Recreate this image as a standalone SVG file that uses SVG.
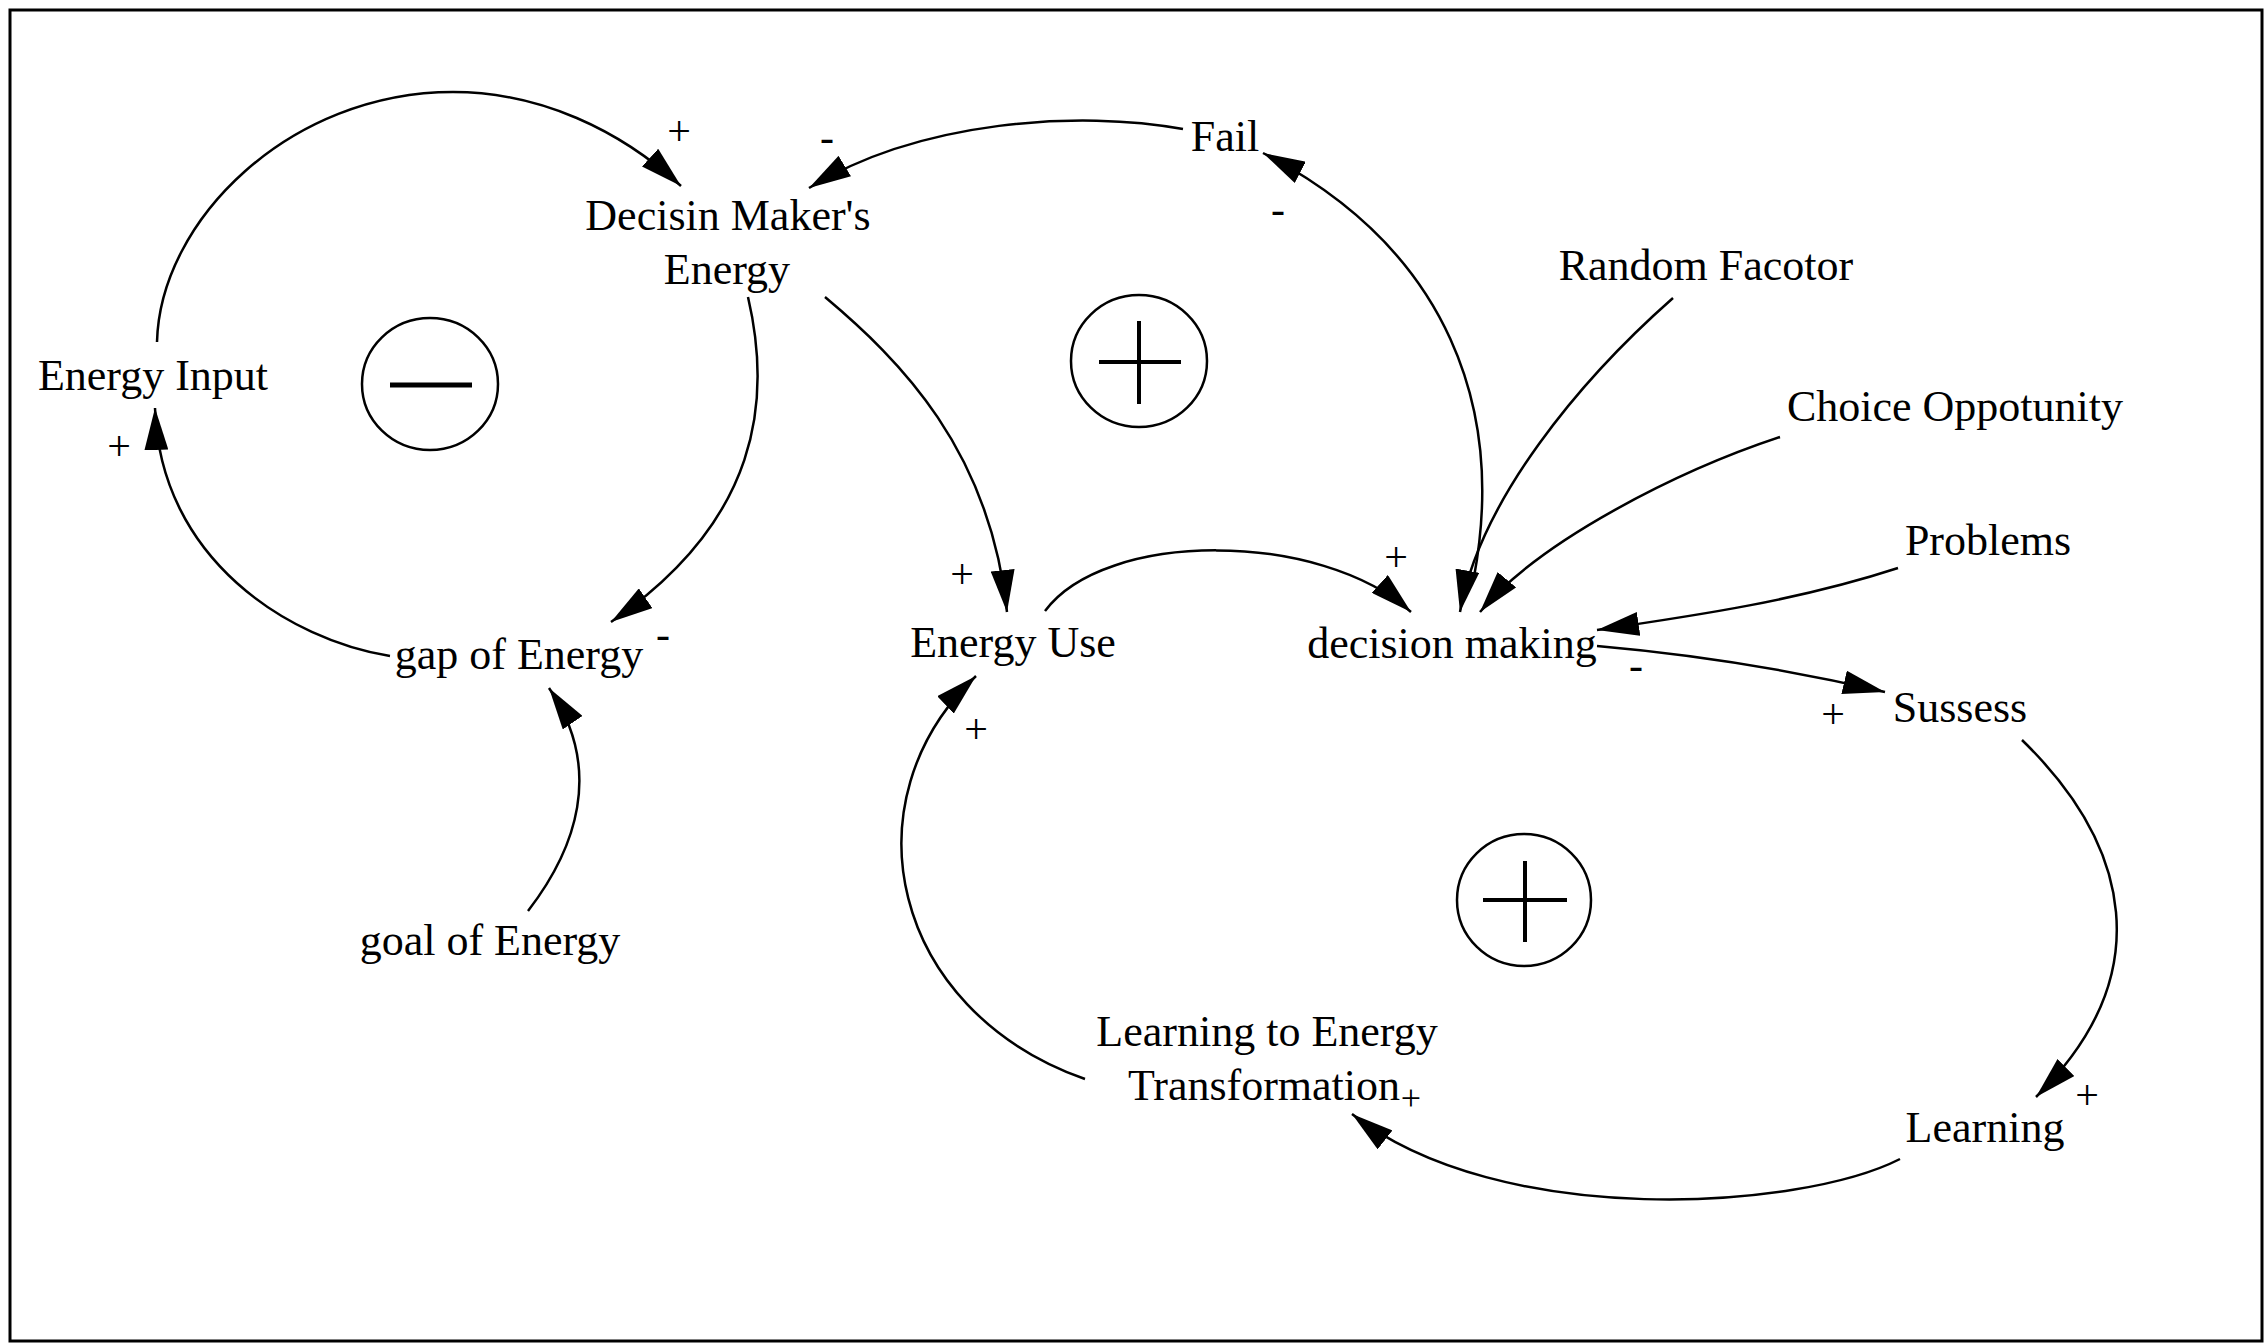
<svg xmlns="http://www.w3.org/2000/svg" width="2266" height="1344" viewBox="0 0 2266 1344">
<style>
text { font-family: "Liberation Serif", "Times New Roman", serif; fill: #000; }
.lbl { font-size: 44px; text-anchor: middle; }
.sign { font-size: 42px; text-anchor: middle; }
.conn { fill: none; stroke: #000; stroke-width: 2.5; }
.loop { fill: none; stroke: #000; stroke-width: 2.5; }
.glyph { stroke: #000; stroke-width: 5; }
</style>
<defs>
<marker id="arr" markerUnits="userSpaceOnUse" markerWidth="42" markerHeight="24" viewBox="0 0 42 24" refX="42" refY="12" orient="auto">
<path d="M0,0 L42,12 L0,24 z" fill="#000"/>
</marker>
</defs>
<rect x="10" y="10" width="2252" height="1331" fill="#fff" stroke="#000" stroke-width="3"/>

<g id="connectors">
<path class="conn" marker-end="url(#arr)" d="M157,342 C160,220 290,92 453,92 C540,92 620,130 681,186"/>
<path class="conn" marker-end="url(#arr)" d="M390,656 C290,640 160,560 155,408"/>
<path class="conn" marker-end="url(#arr)" d="M748,297 C772,400 760,520 611,622"/>
<path class="conn" marker-end="url(#arr)" d="M528,911 C575,850 605,770 549,688"/>
<path class="conn" marker-end="url(#arr)" d="M825,297 C900,360 990,450 1007,612"/>
<path class="conn" marker-end="url(#arr)" d="M1183,129 C1080,110 920,120 809,188"/>
<path class="conn" marker-end="url(#arr)" d="M1474,577 C1505,410 1450,250 1263,153"/>
<path class="conn" marker-end="url(#arr)" d="M1673,298 C1580,380 1480,500 1460,612"/>
<path class="conn" marker-end="url(#arr)" d="M1780,437 C1680,470 1540,540 1480,612"/>
<path class="conn" marker-end="url(#arr)" d="M1898,568 C1800,600 1700,615 1597,630"/>
<path class="conn" marker-end="url(#arr)" d="M1045,611 C1105,530 1320,530 1411,612"/>
<path class="conn" marker-end="url(#arr)" d="M1597,646 C1700,655 1800,672 1885,692"/>
<path class="conn" marker-end="url(#arr)" d="M2022,740 C2130,845 2160,975 2036,1097"/>
<path class="conn" marker-end="url(#arr)" d="M1900,1159 C1800,1210 1500,1230 1352,1114"/>
<path class="conn" marker-end="url(#arr)" d="M1085,1079 C890,1010 845,800 976,676"/>
</g>

<g id="node-decision-makers-energy">
<text class="lbl" x="728" y="230">Decisin Maker's</text>
<text class="lbl" x="727" y="284">Energy</text>
</g>
<g id="node-energy-input"><text class="lbl" x="153" y="390">Energy Input</text></g>
<g id="node-gap-of-energy"><text class="lbl" x="519" y="669">gap of Energy</text></g>
<g id="node-goal-of-energy"><text class="lbl" x="490" y="955">goal of Energy</text></g>
<g id="node-energy-use"><text class="lbl" x="1013" y="657">Energy Use</text></g>
<g id="node-decision-making"><text class="lbl" x="1452" y="658">decision making</text></g>
<g id="node-fail"><text class="lbl" x="1225" y="151">Fail</text></g>
<g id="node-random-facotor"><text class="lbl" x="1706" y="280">Random Facotor</text></g>
<g id="node-choice-oppotunity"><text class="lbl" x="1955" y="421">Choice Oppotunity</text></g>
<g id="node-problems"><text class="lbl" x="1988" y="555">Problems</text></g>
<g id="node-sussess"><text class="lbl" x="1960" y="722">Sussess</text></g>
<g id="node-learning"><text class="lbl" x="1985" y="1142">Learning</text></g>
<g id="node-learning-to-energy-transformation">
<text class="lbl" x="1267" y="1046">Learning to Energy</text>
<text class="lbl" x="1264" y="1100">Transformation</text>
</g>

<g id="polarities">
<text class="sign" x="679" y="145">+</text>
<text class="sign" x="827" y="151">-</text>
<text class="sign" x="119" y="460">+</text>
<text class="sign" x="663" y="648">-</text>
<text class="sign" x="1278" y="223">-</text>
<text class="sign" x="962" y="588">+</text>
<text class="sign" x="1396" y="571">+</text>
<text class="sign" x="976" y="743">+</text>
<text class="sign" x="1636" y="679">-</text>
<text class="sign" x="1833" y="728">+</text>
<text class="sign" x="2087" y="1109">+</text>
<text class="sign" x="1411" y="1110" style="font-size:36px">+</text>
</g>

<g id="loop-balancing">
<ellipse class="loop" cx="430" cy="384" rx="68" ry="66"/>
<line class="glyph" x1="390" y1="385" x2="472" y2="385"/>
</g>
<g id="loop-reinforcing-upper">
<ellipse class="loop" cx="1139" cy="361" rx="68" ry="66"/>
<line class="glyph" x1="1099" y1="362" x2="1181" y2="362" style="stroke-width:4"/>
<line class="glyph" x1="1139" y1="321" x2="1139" y2="404" style="stroke-width:4"/>
</g>
<g id="loop-reinforcing-lower">
<ellipse class="loop" cx="1524" cy="900" rx="67" ry="66"/>
<line class="glyph" x1="1483" y1="900" x2="1567" y2="900" style="stroke-width:4"/>
<line class="glyph" x1="1525" y1="861" x2="1525" y2="942" style="stroke-width:4"/>
</g>
</svg>
